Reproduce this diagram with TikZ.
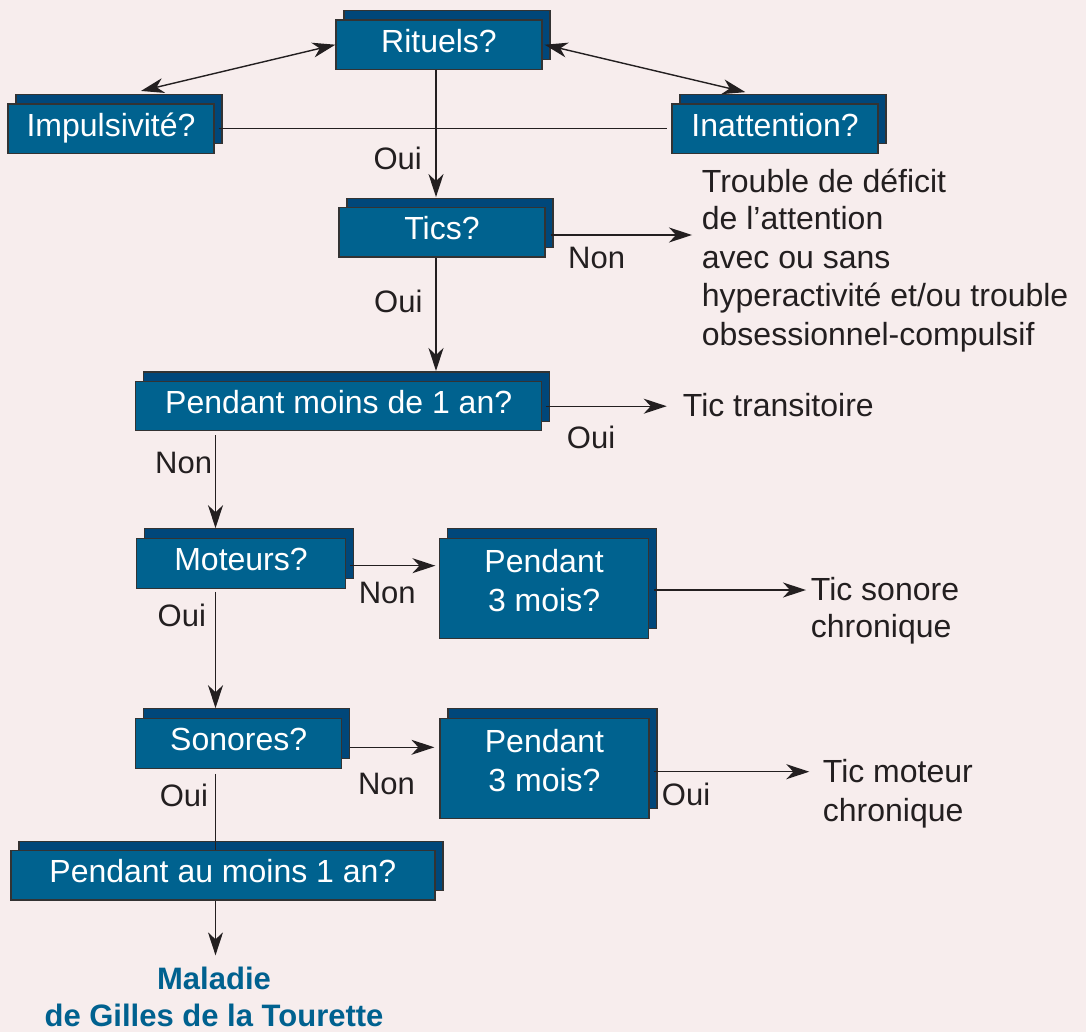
\documentclass[tikz,border=0pt]{standalone}
\usepackage{fontspec}
\setmainfont{Liberation Sans}
\usetikzlibrary{arrows.meta,calc,shadows}
\definecolor{bg}{HTML}{F7EDED}
\definecolor{boxfront}{HTML}{00628F}
\definecolor{boxback}{HTML}{00477A}
\definecolor{edge}{HTML}{333333}
\definecolor{ink}{HTML}{231F20}
\definecolor{titleblue}{HTML}{00618F}
\begin{document}
\begin{tikzpicture}[x=1pt,y=-1pt,
  >={Stealth[length=23pt,width=15pt,inset=7pt]},
  qboxbase/.style={rectangle, fill=boxfront, draw=edge, line width=1.2pt, text=white,
    inner sep=0pt, font=\fontsize{32}{38.6}\selectfont,
    copy shadow={shadow xshift=8pt, shadow yshift=9.5pt, fill=boxback, draw=edge, line width=1.2pt}},
  qbox/.style={qboxbase, minimum height=49.3pt, text height=23pt, text depth=8pt},
  qboxtwo/.style={qboxbase, align=center, minimum height=100pt, text depth=16pt},
  line/.style={draw=ink, line width=1.4pt},
  lbl/.style={inner sep=0pt, anchor=base west, text=ink, font=\fontsize{31}{37}\selectfont},
  txt/.style={inner sep=0pt, anchor=base west, text=ink, font=\fontsize{32}{38}\selectfont},
  mal/.style={inner sep=0pt, anchor=base, text=titleblue, font=\bfseries\fontsize{31}{38}\selectfont}
]
\fill[bg] (0,0) rectangle (1086,1032);
\useasboundingbox (0,0) rectangle (1086,1032);

% boxes
\node[qbox, minimum width=206pt] (rit) at (439,44.7) {Rituels?};
\node[qbox, minimum width=206pt] (imp) at (111,128.7) {Impulsivité?};
\node[qbox, minimum width=206pt] (ina) at (775,128.7) {Inattention?};
\node[qbox, minimum width=206pt] (tics) at (442,232.3) {Tics?};
\node[qbox, minimum width=406pt] (pm) at (338.7,406.2) {Pendant moins de 1 an?};
\node[qbox, minimum width=209pt, minimum height=50pt] (mot) at (241,563.3) {Moteurs?};
\node[qboxtwo, minimum width=209pt] (p1) at (544.1,588.3) {Pendant\\3 mois?};
\node[qbox, minimum width=206pt, minimum height=50pt] (son) at (238.7,743.3) {Sonores?};
\node[qboxtwo, minimum width=209pt] (p2) at (544.5,768.3) {Pendant\\3 mois?};
\node[qbox, minimum width=424pt] (pam) at (222.9,875.3) {Pendant au moins 1 an?};

% outcome texts
\node[txt] (tr1) at (701.7,192.3) {Trouble de déficit};
\node[txt] (tr2) at (701.7,230) {de l’attention};
\node[txt] (tr3) at (701.7,268.3) {avec ou sans};
\node[txt] (tr4) at (701.7,306.7) {hyperactivité et/ou trouble};
\node[txt] (tr5) at (701.7,345) {obsessionnel-compulsif};
\node[txt] (tt) at (682.7,416.7) {Tic transitoire};
\node[txt] (ts) at (810.7,600.7) {Tic sonore};
\node[txt] (ts2) at (810.7,637.3) {chronique};
\node[txt] (tm) at (822.7,782.7) {Tic moteur};
\node[txt] (tm2) at (822.7,821) {chronique};
\node[mal] (mal1) at (214,989) {Maladie};
\node[mal] (mal2) at (214,1026.5) {de Gilles de la Tourette};

% labels
\node[lbl] (oui1) at (373.3,169.3) {Oui};
\node[lbl] (non1) at (568,269) {Non};
\node[lbl] (oui2) at (374,312) {Oui};
\node[lbl] (oui3) at (566.7,448.3) {Oui};
\node[lbl] (non2) at (155,473) {Non};
\node[lbl] (non3) at (358.6,603.3) {Non};
\node[lbl] (oui4) at (157.5,626) {Oui};
\node[lbl] (non4) at (357.8,794) {Non};
\node[lbl] (oui5) at (159.6,806) {Oui};
\node[lbl] (oui6) at (661.7,805.7) {Oui};

\coordinate (col) at (215.5,0);

% connectors
\draw[line, <->] (rit.west) -- ([xshift=30pt,yshift=12.5pt]imp.north);
\draw[line, <->] ([xshift=2pt]rit.east) -- ([xshift=-29.6pt,yshift=11.3pt]ina.north);
\draw[line] ([xshift=4pt]imp.east) -- ([xshift=-4pt]ina.west);
\draw[line, ->] ([xshift=-3pt]rit.south) -- ([xshift=-6pt,yshift=10pt]tics.north);
\draw[line, ->] ([xshift=-6pt]tics.south) -- ([xshift=97.3pt,yshift=10pt]pm.north);
\draw[line, ->] ($(tics.east)+(5,2.7)$) -- ($(tics.east -| tr2.west)+(-9.7,2.7)$);
\draw[line, ->] ($(pm.east)+(3.5,0)$) -- ($(pm.east -| tt.west)+(-16,0)$);
\draw[line, ->] ($(pm.south -| col)+(0,4)$) -- ($(mot.north -| col)+(0,-9.5)$);
\draw[line, ->] ($(mot.east)+(4.3,2.4)$) -- ($(mot.east -| p1.west)+(-3.6,2.4)$);
\draw[line, ->] ($(mot.south -| col)+(0,3)$) -- ($(son.north -| col)+(0,-9.5)$);
\draw[line, ->] ($(p1.east)+(4.7,1.7)$) -- ($(p1.east -| ts.west)+(-4.7,1.7)$);
\draw[line, ->] ($(son.east)+(7.8,4)$) -- ($(son.east -| p2.west)+(-5,4)$);
\draw[line] ($(son.south -| col)+(0,5)$) -- (pam.north -| col);
\draw[line, ->] ($(p2.east)+(4.3,3.4)$) -- ($(p2.east -| tm.west)+(-13.4,3.4)$);
\draw[line, ->] (pam.south -| col) -- ($(mal1.north -| col)+(0,-11)$);
\end{tikzpicture}
\end{document}
